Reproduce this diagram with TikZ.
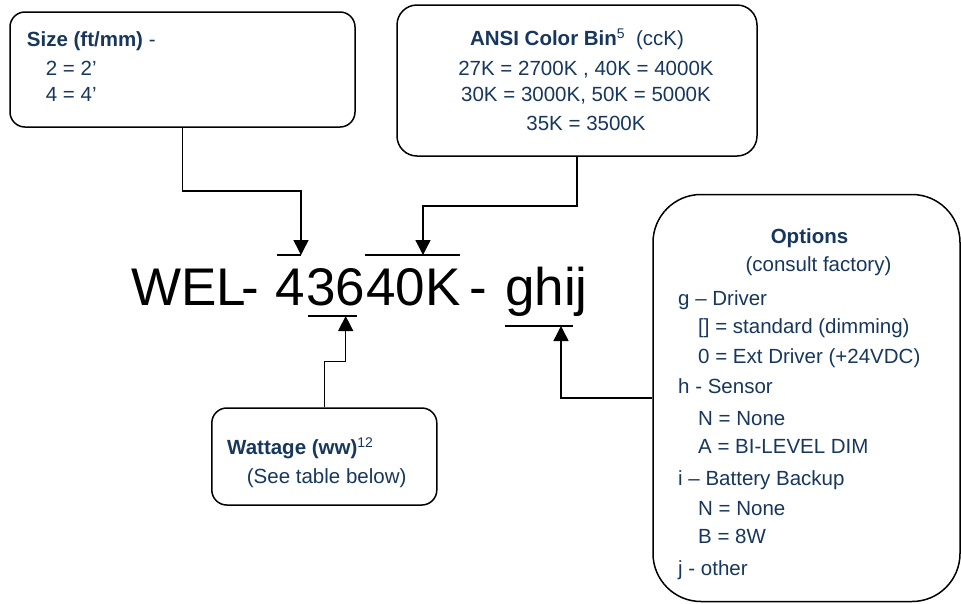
\documentclass[tikz,border=0pt]{standalone}
\usepackage{fontspec}
\setmainfont{Liberation Sans}
\usetikzlibrary{arrows.meta}
\definecolor{navy}{RGB}{23,55,94}
\begin{document}
\begin{tikzpicture}[x=1pt,y=-1pt,
  box/.style={draw=black, line width=1.5pt, rounded corners=15pt, inner sep=0pt, fill=white},
  conn/.style={line width=1.5pt},
  arr/.style={conn, -{Triangle[width=15pt,length=15pt]}},
  txt/.style={inner sep=0pt, anchor=base west, text=navy, font=\fontsize{20.5}{24}\selectfont},
  ctxt/.style={txt, anchor=base},
  big/.style={inner sep=0pt, anchor=base west, text=black, font=\fontsize{53}{60}\selectfont}]
\useasboundingbox (0,0) rectangle (961,603);
\newcommand{\supx}[1]{\raisebox{7pt}{\fontsize{14}{14}\selectfont #1}}

% boxes
\node[box, minimum width=345pt, minimum height=115pt] (size) at (182.5,69.5) {};
\node[box, rounded corners=20pt, minimum width=360pt, minimum height=151pt] (ansi) at (577,80.5) {};
\node[box, minimum width=225pt, minimum height=97pt] (watt) at (324.3,456.5) {};
\node[box, rounded corners=48pt, minimum width=307pt, minimum height=407pt] (opt) at (806.5,398) {};

% size text
\node[txt] (s1) at (26.7,46.7) {\textbf{Size (ft/mm)} -};
\node[txt] (s2) at (45.7,75) {2 = 2’};
\node[txt] (s3) at (45.7,101.7) {4 = 4’};

% ansi text
\node[ctxt] (a1) at (577,45) {\textbf{ANSI Color Bin}\supx{5} \ (ccK)};
\node[ctxt] (a2) at (586,75) {27K = 2700K , 40K = 4000K};
\node[ctxt] (a3) at (586,101.7) {30K = 3000K, 50K = 5000K};
\node[ctxt] (a4) at (586,130) {35K = 3500K};

% wattage text
\node[txt] (w1t) at (227,454) {\textbf{Wattage (ww)}\supx{12}};
\node[txt] (w2t) at (246.7,483) {(See table below)};

% options text
\node[ctxt] (o1) at (809.5,243.3) {\textbf{Options}};
\node[ctxt] (o2) at (818.5,271.7) {(consult factory)};
\node[txt] (o3) at (678,305) {g – Driver};
\node[txt] (o4) at (698,333) {[] = standard (dimming)};
\node[txt] (o5) at (698,363) {0 = Ext Driver (+24VDC)};
\node[txt] (o6) at (678,393) {h - Sensor};
\node[txt] (o7) at (698,425) {N = None};
\node[txt] (o8) at (698,453) {A = BI-LEVEL DIM};
\node[txt] (o9) at (678,485) {i – Battery Backup};
\node[txt] (o10) at (698,515) {N = None};
\node[txt] (o11) at (698,543) {B = 8W};
\node[txt] (o12) at (678,575) {j - other};

% big part number
\node[big] (p1) at (131,305) {WEL};
\node[big] (p1b) at (241.5,305) {-};
\node[big] (p2) at (275,305) {4};
\node[big] (p3) at (306,305) {36};
\node[big] (p4) at (366,305) {40K};
\node[big] (p5) at (469.4,305) {-};
\node[big] (p6) at (505,305) {ghij};

% over/underlines
\draw[conn] (277,255) -- (301,255);
\draw[conn] (365,255) -- (460,255);
\draw[conn] (308,316) -- (357,316);
\draw[conn] (505,326) -- (573,326);

% connector targets
\coordinate (c4) at (301,255);
\coordinate (c40k) at (423,255);
\coordinate (c36) at (345.7,316);
\coordinate (cghij) at (561,326);

% connectors
\draw[arr] (size.south) -- ++(0,63) -| (c4);
\draw[arr] (ansi.south) -- ++(0,49) -| (c40k);
\draw[arr] (watt.north) -- ++(0,-46) -| (c36);
\draw[arr] (opt.west) -| (cghij);
\end{tikzpicture}
\end{document}
